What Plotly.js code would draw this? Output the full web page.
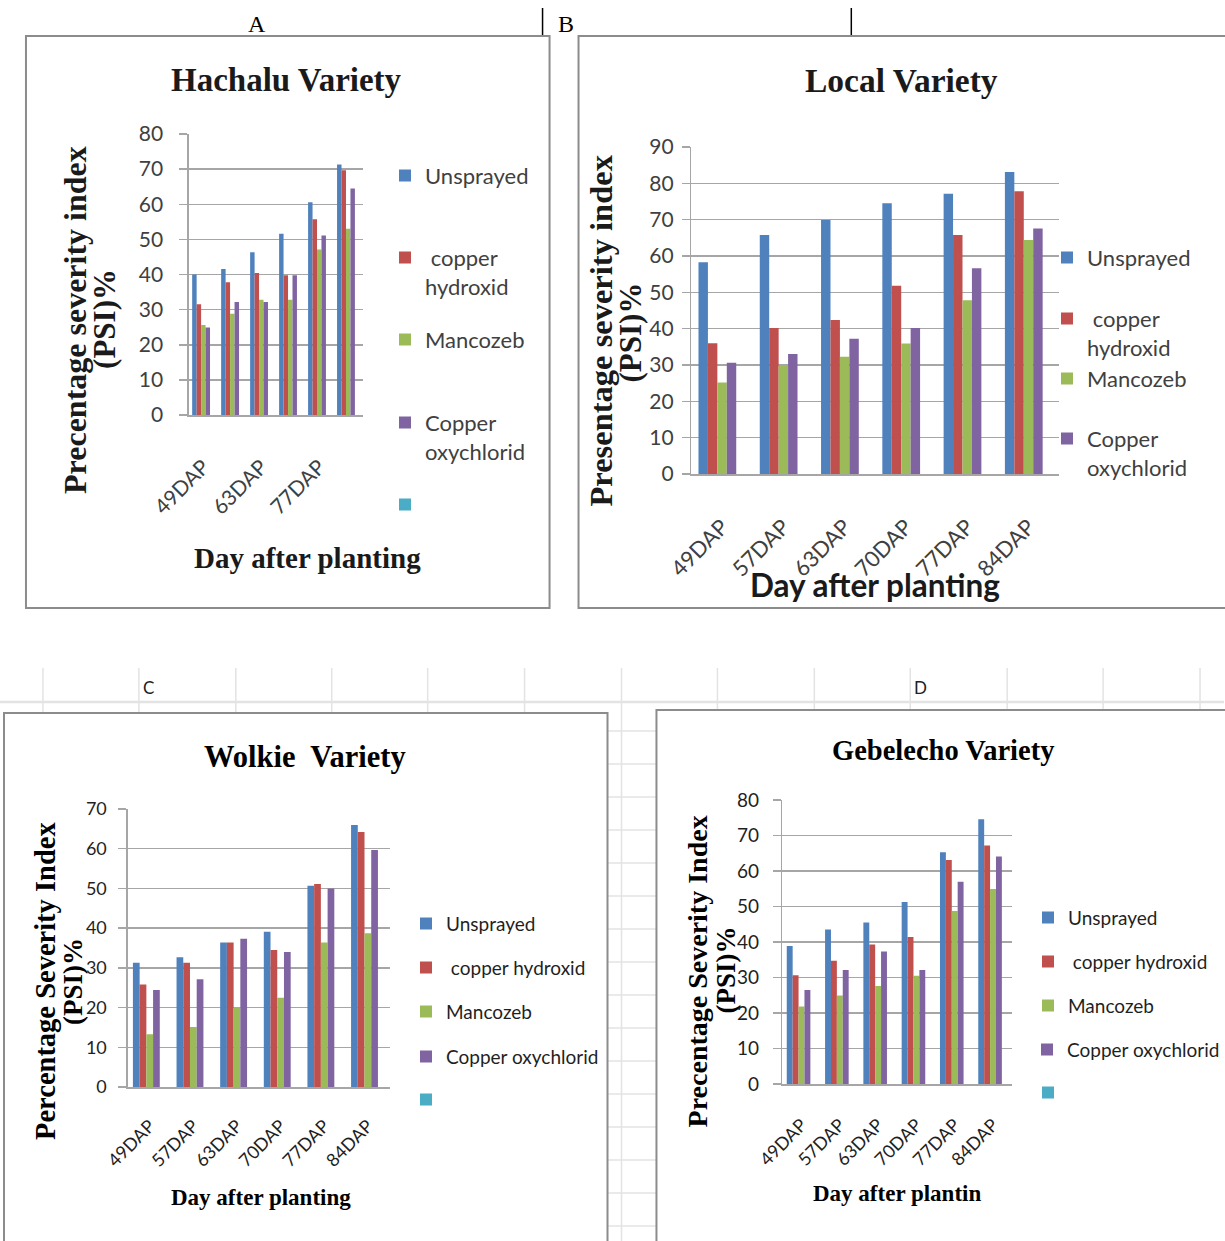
<!DOCTYPE html>
<html>
<head>
<meta charset="utf-8">
<script src="https://cdn.plot.ly/plotly-3.0.1.min.js"></script>
<style>html,body{margin:0;padding:0;background:#fff}#chart{width:1225px;height:1241px}</style>
</head>
<body>
<div id="chart"></div>
<script>
// ---------- DATA ----------
const categories = ['49DAP','57DAP','63DAP','70DAP','77DAP','84DAP'];
const seriesNamesA = ['Unsprayed', ' copper<br>hydroxid', 'Mancozeb', 'Copper<br>oxychlorid', ''];
const seriesNamesB = ['Unsprayed', ' copper<br>hydroxid', 'Mancozeb', 'Copper<br>oxychlorid', ''];
const seriesNamesC = ['Unsprayed', ' copper hydroxid', 'Mancozeb', 'Copper oxychlorid', ''];
const seriesNamesD = ['Unsprayed', ' copper hydroxid', 'Mancozeb', 'Copper oxychlorid', ''];

// A: Hachalu Variety
const hachaluUnsprayed = [40.0, 41.6, 46.3, 51.6, 60.6, 71.3];
const hachaluCopperHydroxid = [31.5, 37.8, 40.4, 39.8, 55.7, 69.7];
const hachaluMancozeb = [25.6, 28.8, 32.8, 32.8, 47.1, 53.0];
const hachaluCopperOxychlorid = [24.9, 32.2, 32.2, 39.8, 51.1, 64.5];
// B: Local Variety
const localUnsprayed = [58.3, 65.8, 69.9, 74.5, 77.1, 83.1];
const localCopperHydroxid = [36.0, 40.2, 42.4, 51.8, 65.8, 77.8];
const localMancozeb = [25.2, 29.8, 32.3, 35.9, 47.8, 64.4];
const localCopperOxychlorid = [30.6, 33.0, 37.2, 40.2, 56.6, 67.6];
// C: Wolkie Variety
const wolkieUnsprayed = [31.3, 32.7, 36.4, 39.1, 50.7, 66.0];
const wolkieCopperHydroxid = [25.8, 31.3, 36.4, 34.5, 51.1, 64.2];
const wolkieMancozeb = [13.3, 15.1, 20.0, 22.5, 36.4, 38.7];
const wolkieCopperOxychlorid = [24.4, 27.1, 37.3, 34.0, 50.0, 59.7];
// D: Gebelecho Variety
const gebelechoUnsprayed = [38.9, 43.5, 45.5, 51.3, 65.3, 74.6];
const gebelechoCopperHydroxid = [30.6, 34.7, 39.3, 41.4, 63.1, 67.2];
const gebelechoMancozeb = [21.8, 24.9, 27.6, 30.5, 48.7, 54.9];
const gebelechoCopperOxychlorid = [26.5, 32.1, 37.3, 32.1, 57.0, 64.1];
// fifth (empty) series present in the source workbook
const emptySeries = [null, null, null, null, null, null];

const tickLabelsA = ['49DAP', '63DAP', '77DAP'];

// ---------- LAYOUT HELPERS ----------
const W = 1225, H = 1241;
const X = p => p / W;
const Y = p => 1 - p / H;
const colors = ['#4F81BD', '#C0504D', '#9BBB59', '#8064A2', '#4BACC6'];
const serif = '"Liberation Serif", "Times New Roman", serif';
const sans = 'Lato, Carlito, "Open Sans", sans-serif';

const charts = [
  { ax: '', names: seriesNamesA,
    data: [hachaluUnsprayed, hachaluCopperHydroxid, hachaluMancozeb, hachaluCopperOxychlorid, emptySeries],
    xd: [189, 363], yd: [134, 415], range: [0, 80], tickvals: tickLabelsA,
    yfont: 21, xfont: 21, tcol: '#404040', ystand: 12, xstand: 30,
    leg: { x: 407, ys: [176, 258, 340, 423, 505], f: 22, col: '#404040', show: [1,1,1,1,1] } },
  { ax: '2', names: seriesNamesB,
    data: [localUnsprayed, localCopperHydroxid, localMancozeb, localCopperOxychlorid, emptySeries],
    xd: [692, 1060], yd: [147, 474], range: [0, 90], tickvals: categories,
    yfont: 21, xfont: 22, tcol: '#404040', ystand: 4, xstand: 30,
    leg: { x: 1069, ys: [258, 319, 379, 439, 520], f: 22, col: '#404040', show: [1,1,1,1,0] } },
  { ax: '3', names: seriesNamesC,
    data: [wolkieUnsprayed, wolkieCopperHydroxid, wolkieMancozeb, wolkieCopperOxychlorid, emptySeries],
    xd: [128, 390], yd: [809, 1087], range: [0, 70], tickvals: categories,
    yfont: 18, xfont: 18, tcol: '#1f1f1f', ystand: 8, xstand: 20,
    leg: { x: 428, ys: [924, 968, 1012, 1057, 1100], f: 19, col: '#1f1f1f', show: [1,1,1,1,1] } },
  { ax: '4', names: seriesNamesD,
    data: [gebelechoUnsprayed, gebelechoCopperHydroxid, gebelechoMancozeb, gebelechoCopperOxychlorid, emptySeries],
    xd: [783, 1013], yd: [800, 1084], range: [0, 80], tickvals: categories,
    yfont: 19, xfont: 18, tcol: '#1f1f1f', ystand: 10, xstand: 22,
    leg: { x: 1050, ys: [918, 962, 1006, 1050, 1093], f: 19, col: '#1f1f1f', show: [1,1,1,1,1] } }
];

const traces = [];
const layout = {
  width: W, height: H,
  margin: { l: 0, r: 0, t: 0, b: 0, pad: 0 },
  paper_bgcolor: '#ffffff', plot_bgcolor: 'rgba(0,0,0,0)',
  barmode: 'group', bargap: 0.23, bargroupgap: 0,
  showlegend: true,
  shapes: [], annotations: []
};

let legendIdx = 0;
charts.forEach(c => {
  const xa = 'xaxis' + c.ax, ya = 'yaxis' + c.ax;
  layout[xa] = {
    domain: [X(c.xd[0]), X(c.xd[1])], anchor: 'y' + c.ax,
    type: 'category', categoryorder: 'array', categoryarray: categories,
    tickmode: 'array', tickvals: c.tickvals, ticktext: c.tickvals,
    tickangle: -45, ticks: '', ticklabelstandoff: c.xstand,
    tickfont: { family: sans, size: c.xfont, color: c.tcol },
    showline: true, linecolor: '#a6a6a6', linewidth: 1.5,
    showgrid: false, zeroline: false, fixedrange: true
  };
  layout[ya] = {
    domain: [Y(c.yd[1]), Y(c.yd[0])], anchor: 'x' + c.ax,
    range: c.range, dtick: 10, tick0: 0,
    ticks: 'outside', ticklen: 8, tickwidth: 1.5, tickcolor: '#a6a6a6',
    ticklabelstandoff: c.ystand,
    tickfont: { family: sans, size: c.yfont, color: c.tcol },
    showline: true, linecolor: '#a6a6a6', linewidth: 1.5,
    showgrid: true, gridcolor: '#a6a6a6', gridwidth: 1.5,
    zeroline: false, fixedrange: true
  };
  c.data.forEach((vals, i) => {
    let legKey = null;
    if (c.leg.show[i]) {
      legendIdx++;
      legKey = legendIdx === 1 ? 'legend' : 'legend' + legendIdx;
      const f = c.leg.f;
      layout[legKey] = {
        x: X(c.leg.x - 22), y: Y(c.leg.ys[i] - (5 + 0.65 * f) - 2),
        xanchor: 'left', yanchor: 'top', valign: 'top',
        bgcolor: 'rgba(0,0,0,0)', borderwidth: 0,
        font: { family: sans, size: f, color: c.leg.col },
        itemclick: false, itemdoubleclick: false
      };
    }
    const t = {
      type: 'bar', x: categories, y: vals, name: c.names[i],
      xaxis: 'x' + c.ax, yaxis: 'y' + c.ax,
      marker: { color: colors[i], line: { width: 0 } },
      showlegend: !!c.leg.show[i], hoverinfo: 'skip'
    };
    if (legKey) t.legend = legKey;
    traces.push(t);
  });
});

// ---------- TEXT ----------
function ann(text, px, py, font, extra) {
  layout.annotations.push(Object.assign({
    text: text, xref: 'paper', yref: 'paper', x: X(px), y: Y(py),
    xanchor: 'center', yanchor: 'middle', showarrow: false, font: font
  }, extra || {}));
}
const bold = (fam, size, color) => ({ family: fam, size: size, color: color || '#000', weight: 'bold' });

// chart titles
ann('Hachalu Variety', 287, 80, bold(serif, 33, '#1a1a1a'));
ann('Local Variety', 902, 80, bold(serif, 33.5, '#1a1a1a'));
ann('Wolkie  Variety', 305, 757, bold(serif, 30.5, '#000'));
ann('Gebelecho Variety', 944, 750, bold(serif, 28.5, '#000'));
// y titles
ann('Precentage severity index', 75, 320, bold(serif, 32, '#1a1a1a'), { textangle: -90 });
ann('(PSI)%', 105, 319, bold(serif, 31, '#1a1a1a'), { textangle: -90 });
ann('Presentage severity index', 601, 331, bold(serif, 32.5, '#1a1a1a'), { textangle: -90 });
ann('(PSI)%', 632, 332, bold(serif, 31, '#1a1a1a'), { textangle: -90 });
ann('Percentage Severity Index', 45, 981, bold(serif, 28.5, '#000'), { textangle: -90 });
ann('(PSI)%', 73, 981, bold(serif, 27, '#000'), { textangle: -90 });
ann('Precentage Severity Index', 698, 971, bold(serif, 28, '#000'), { textangle: -90 });
ann('(PSI)%', 727, 970, bold(serif, 27, '#000'), { textangle: -90 });
// x titles
ann('Day after planting', 308, 558, bold(serif, 29, '#1a1a1a'));
ann('Day after planting', 876, 585, bold(sans, 31.5, '#1a1a1a'));
ann('Day after planting', 261, 1197, bold(serif, 23, '#000'));
ann('Day after plantin', 898, 1193, bold(serif, 23, '#000'));
// panel letters
ann('A', 257, 24, { family: serif, size: 24, color: '#000' });
ann('B', 566, 24, { family: serif, size: 24, color: '#000' });
ann('C', 149, 687, { family: sans, size: 17, color: '#222' });
ann('D', 921, 687, { family: sans, size: 17, color: '#222' });

// ---------- DECORATION (spreadsheet background + chart frames) ----------
function line(x0, y0, x1, y1, color, width) {
  layout.shapes.push({ type: 'line', xref: 'paper', yref: 'paper', layer: 'below',
    x0: X(x0), y0: Y(y0), x1: X(x1), y1: Y(y1), line: { color: color, width: width } });
}
function rect(x0, y0, x1, y1) {
  layout.shapes.push({ type: 'rect', xref: 'paper', yref: 'paper', layer: 'below',
    x0: X(x0), y0: Y(y0), x1: X(x1), y1: Y(y1), fillcolor: '#ffffff',
    line: { color: '#8c8c8c', width: 2 } });
}
const colLines = [43, 139, 236, 332, 428, 525, 622, 718, 815, 911, 1008, 1104, 1201];
colLines.forEach(x => line(x, 668, x, x === 622 ? 1241 : 716, '#e3e3e3', 1.5));
line(0, 702, W, 702, '#e3e3e3', 2.5);
for (let y = 731; y < 1241; y += 33) line(608, y, 657, y, '#e3e3e3', 1.5);
rect(26, 36, 550, 608);
rect(579, 36, 1240, 608);
rect(4, 713, 608, 1260);
rect(657, 710, 1240, 1260);
line(543, 8, 543, 35, '#000', 1.5);
line(852, 8, 852, 35, '#000', 1.5);

Plotly.newPlot('chart', traces, layout, { staticPlot: true, displayModeBar: false });
</script>
</body>
</html>
